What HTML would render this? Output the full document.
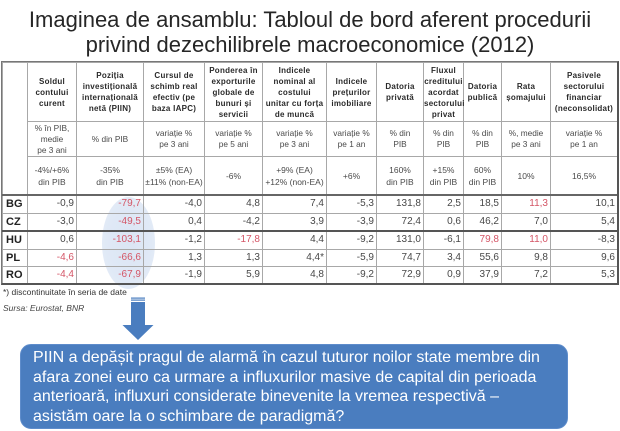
<!DOCTYPE html>
<html><head><meta charset="utf-8">
<style>
html,body{margin:0;padding:0;background:#fff;}
body{width:620px;height:431px;position:relative;overflow:hidden;font-family:"Liberation Sans",Arial,sans-serif;}
.title{position:absolute;left:0;top:7px;width:620px;text-align:center;font-size:22px;line-height:25px;color:#262626;}
.ell{position:absolute;left:102px;top:197px;width:53px;height:92px;border-radius:50%;background:radial-gradient(ellipse at center,#dbe5f4 0%,#e0e9f6 60%,#e9f0f9 100%);}
table{position:absolute;left:2px;top:62px;border-collapse:collapse;table-layout:fixed;width:615px;}
td{border:1px solid #a8a8a8;padding:0;overflow:visible;white-space:nowrap;}
.h td{font-weight:bold;font-size:8px;letter-spacing:0.25px;line-height:11px;text-align:center;color:#2a2a2a;height:58px;}
.u td{font-size:8.3px;line-height:11px;text-align:center;color:#4a4a4a;height:34px;}
.t td{font-size:8.5px;line-height:12px;text-align:center;color:#4a4a4a;height:37px;}
.d td{font-size:10px;text-align:right;color:#484848;padding-right:2px;height:16.5px;line-height:16px;}
.d td.l{text-align:left;font-weight:bold;font-size:11px;color:#222;padding-left:3px;padding-right:0;}
.r{color:#d45566 !important;}
.topb td{border-top:2px solid #666;}
.hub td{border-top:2px solid #555;}
.outer{position:absolute;left:1px;top:61px;width:615px;height:221px;border:1px solid #777;border-right:2px solid #555;border-bottom:2px solid #555;pointer-events:none;}
.fn{position:absolute;left:3px;font-size:8.5px;color:#333;}
.arrow{position:absolute;}
.box{position:absolute;left:20px;top:344px;width:548px;height:85px;border-radius:11px;background:#4a7dbf;border:1px solid #5e8ccb;box-sizing:border-box;}
.boxt{position:absolute;left:33px;top:348px;font-size:16px;line-height:19.5px;color:#fff;white-space:nowrap;}
</style></head><body>
<div class="title">Imaginea de ansamblu: Tabloul de bord aferent procedurii<br>privind dezechilibrele macroeconomice (2012)</div>
<div class="ell"></div>
<table>
<colgroup><col style="width:25px"><col style="width:49px"><col style="width:67px"><col style="width:61px"><col style="width:58px"><col style="width:64px"><col style="width:50px"><col style="width:47px"><col style="width:40px"><col style="width:38px"><col style="width:49px"><col style="width:67px"></colgroup>
<tr class="h"><td rowspan="3"></td><td>Soldul<br>contului<br>curent</td><td>Poziția<br>investițională<br>internațională<br>netă (PIIN)</td><td>Cursul de<br>schimb real<br>efectiv (pe<br>baza IAPC)</td><td>Ponderea în<br>exporturile<br>globale de<br>bunuri și<br>servicii</td><td>Indicele<br>nominal al<br>costului<br>unitar cu forța<br>de muncă</td><td>Indicele<br>prețurilor<br>imobiliare</td><td>Datoria<br>privată</td><td>Fluxul<br>creditului<br>acordat<br>sectorului<br>privat</td><td>Datoria<br>publică</td><td>Rata<br>șomajului</td><td>Pasivele<br>sectorului<br>financiar<br>(neconsolidat)</td></tr>
<tr class="u"><td>% în PIB,<br>medie<br>pe 3 ani</td><td>% din PIB</td><td>variație %<br>pe 3 ani</td><td>variație %<br>pe 5 ani</td><td>variație %<br>pe 3 ani</td><td>variație %<br>pe 1 an</td><td>% din<br>PIB</td><td>% din<br>PIB</td><td>% din<br>PIB</td><td>%, medie<br>pe 3 ani</td><td>variație %<br>pe 1 an</td></tr>
<tr class="t"><td>-4%/+6%<br>din PIB</td><td>-35%<br>din PIB</td><td>±5% (EA)<br>±11% (non-EA)</td><td>-6%</td><td>+9% (EA)<br>+12% (non-EA)</td><td>+6%</td><td>160%<br>din PIB</td><td>+15%<br>din PIB</td><td>60%<br>din PIB</td><td>10%</td><td>16,5%</td></tr>
<tr class="d topb"><td class="l">BG</td><td>-0,9</td><td class="r">-79,7</td><td>-4,0</td><td>4,8</td><td>7,4</td><td>-5,3</td><td>131,8</td><td>2,5</td><td>18,5</td><td class="r">11,3</td><td>10,1</td></tr>
<tr class="d"><td class="l">CZ</td><td>-3,0</td><td class="r">-49,5</td><td>0,4</td><td>-4,2</td><td>3,9</td><td>-3,9</td><td>72,4</td><td>0,6</td><td>46,2</td><td>7,0</td><td>5,4</td></tr>
<tr class="d hub"><td class="l">HU</td><td>0,6</td><td class="r">-103,1</td><td>-1,2</td><td class="r">-17,8</td><td>4,4</td><td>-9,2</td><td>131,0</td><td>-6,1</td><td class="r">79,8</td><td class="r">11,0</td><td>-8,3</td></tr>
<tr class="d"><td class="l">PL</td><td class="r">-4,6</td><td class="r">-66,6</td><td>1,3</td><td>1,3</td><td>4,4*</td><td>-5,9</td><td>74,7</td><td>3,4</td><td>55,6</td><td>9,8</td><td>9,6</td></tr>
<tr class="d"><td class="l">RO</td><td class="r">-4,4</td><td class="r">-67,9</td><td>-1,9</td><td>5,9</td><td>4,8</td><td>-9,2</td><td>72,9</td><td>0,9</td><td>37,9</td><td>7,2</td><td>5,3</td></tr>
</table>
<div class="outer"></div>
<div class="fn" style="top:287px;">*) discontinuitate în seria de date</div>
<div class="fn" style="top:303px;font-style:italic;color:#444;">Sursa: Eurostat, BNR</div>
<svg class="arrow" style="left:118px;top:295px;" width="40" height="50" viewBox="0 0 40 50">
<rect x="13" y="2.5" width="14" height="1.2" fill="#4a7dbf"/>
<rect x="13" y="4.5" width="14" height="1.2" fill="#4a7dbf"/>
<rect x="13" y="7" width="14" height="23" fill="#4a7dbf"/>
<polygon points="4.5,30 35.5,30 20,45" fill="#4a7dbf"/>
</svg>
<div class="box"></div>
<div class="boxt">PIIN a depășit pragul de alarmă în cazul tuturor noilor state membre din<br>afara zonei euro ca urmare a influxurilor masive de capital din perioada<br>anterioară, influxuri considerate binevenite la vremea respectivă –<br>asistăm oare la o schimbare de paradigmă?</div>
</body></html>
